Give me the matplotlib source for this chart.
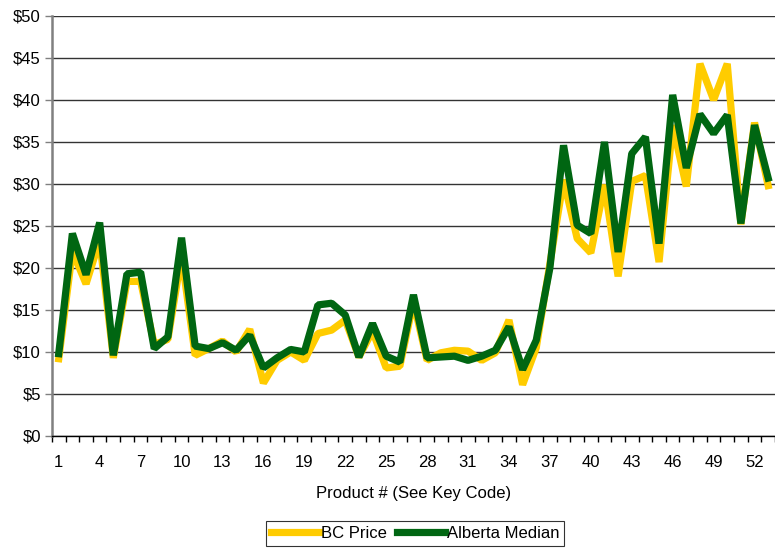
import numpy as np
import matplotlib.pyplot as plt

plt.rcParams['font.family'] = ['Liberation Sans', 'DejaVu Sans']

products = np.arange(1, 54)
bc_price = [9.2, 22.0, 18.1, 23.3, 9.3, 18.4, 18.4, 10.9, 11.5, 21.5,
            9.6, 10.4, 11.3, 10.0, 12.7, 6.3, 9.0, 10.0, 9.0, 12.2,
            12.6, 13.8, 9.4, 12.5, 8.1, 8.3, 16.0, 9.0, 9.9, 10.2,
            10.1, 9.0, 9.9, 13.8, 6.1, 10.5, 20.5, 30.5, 23.5, 21.8,
            29.9, 19.0, 30.3, 31.0, 20.7, 37.0, 29.7, 44.3, 40.0, 44.3,
            25.2, 37.3, 29.8]
alberta_median = [9.8, 24.1, 19.2, 25.4, 9.6, 19.3, 19.5, 10.4, 11.8, 23.6,
                  10.7, 10.4, 11.1, 10.2, 12.0, 8.1, 9.3, 10.3, 10.0, 15.6,
                  15.8, 14.4, 9.4, 13.4, 9.5, 8.8, 16.8, 9.3, 9.4, 9.5,
                  9.0, 9.5, 10.2, 13.0, 7.9, 11.4, 20.0, 34.6, 25.1, 24.1,
                  35.0, 21.9, 33.6, 35.6, 22.9, 40.6, 31.9, 38.3, 36.0, 38.2,
                  25.3, 37.0, 30.7]
y_ticks = np.arange(0, 51, 5)

fig = plt.figure(figsize=(7.75, 5.48), dpi=100)
ax = fig.add_axes([0.067, 0.2044, 0.933, 0.7666])

for y in y_ticks:
    ax.axhline(y, color='#333333', lw=1.0, zorder=0)

ax.plot(products, bc_price, color='#FFCC00', lw=5.2, label='BC Price',
        solid_joinstyle='bevel', zorder=2)
ax.plot(products, alberta_median, color='#006612', lw=5.2, label='Alberta Median',
        solid_joinstyle='bevel', zorder=3)

ax.set_xlim(0.5, 53.3)
ax.set_ylim(0, 50)
ax.set_yticks(y_ticks)
ax.set_yticklabels(['${}'.format(v) for v in y_ticks])
ax.set_xticks(products[::3])
ax.set_xticks(np.arange(0.5, 54, 1), minor=True)
ax.tick_params(axis='x', which='major', length=0, pad=14, labelsize=12)
ax.tick_params(axis='x', which='minor', length=4, width=1, color='black')
ax.tick_params(axis='y', length=5, width=1, color='#808080', pad=3, labelsize=12)

for side in ['top', 'right']:
    ax.spines[side].set_visible(False)
ax.spines['left'].set_color('#808080')
ax.spines['left'].set_linewidth(1.8)
ax.spines['bottom'].set_color('black')
ax.spines['bottom'].set_linewidth(1.0)

ax.set_xlabel('Product # (See Key Code)', fontsize=12, labelpad=11)

leg = fig.legend(loc='upper center', bbox_to_anchor=(415 / 775, 1 - 521 / 548),
                 ncol=2, frameon=True, fancybox=False, fontsize=12,
                 handlelength=2.9, handletextpad=0.1, columnspacing=0.6,
                 borderpad=0.3, borderaxespad=0)
leg.get_frame().set_edgecolor('black')
leg.get_frame().set_linewidth(0.8)

fig.savefig('out.png', dpi=100)
